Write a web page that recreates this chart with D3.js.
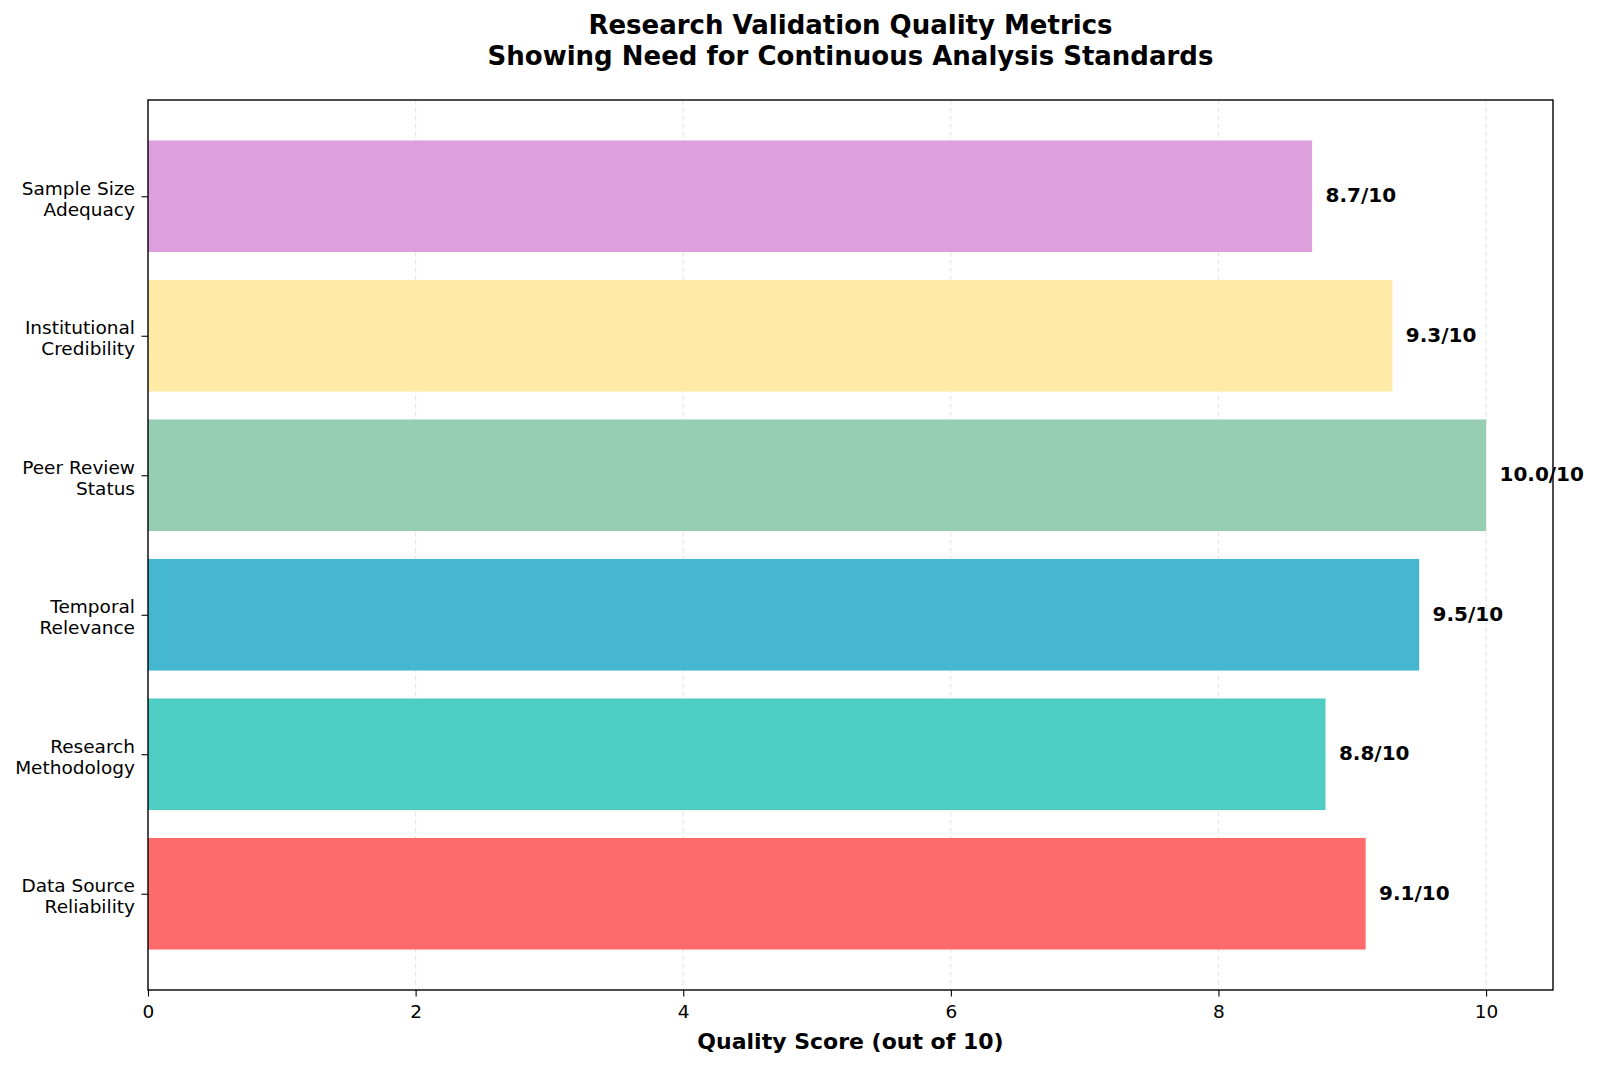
<!DOCTYPE html>
<html><head><meta charset="utf-8">
<script src="https://cdn.jsdelivr.net/npm/d3@7"></script>
<style>body{margin:0;background:#fff}svg{display:block}text{font-family:"DejaVu Sans",sans-serif}</style>
</head><body><svg id="c" width="1600" height="1065"></svg>
<script>
const categories = [["Data Source","Reliability"],["Research","Methodology"],["Temporal","Relevance"],["Peer Review","Status"],["Institutional","Credibility"],["Sample Size","Adequacy"]];
const scores = [9.1, 8.8, 9.5, 10.0, 9.3, 8.7];
const colors = ["#FF6B6B","#4ECDC4","#45B7D1","#96CEB4","#FFEAA7","#DDA0DD"];
const xTicks = [0,2,4,6,8,10];
const titleLines = ["Research Validation Quality Metrics","Showing Need for Continuous Analysis Standards"];
const xLabel = "Quality Score (out of 10)";

const svg = d3.select("#c");
const L = 148, R = 1553, T = 100, B = 990;
const x = d3.scaleLinear().domain([0, 10.5]).range([L, R]);
const y = d3.scaleLinear().domain([-0.69, 5.69]).range([B, T]);
const bh = 0.8;

// grid
svg.append("g").selectAll("line").data(xTicks.filter(d=>d>0)).join("line")
  .attr("x1", d=>x(d)).attr("x2", d=>x(d)).attr("y1", T).attr("y2", B)
  .attr("stroke", "#b0b0b0").attr("stroke-opacity", 0.3).attr("stroke-width", 1.1)
  .attr("stroke-dasharray", "5,3");

// bars
svg.append("g").selectAll("rect").data(scores).join("rect")
  .attr("x", x(0)).attr("width", d=>x(d)-x(0))
  .attr("y", (d,i)=>y(i+bh/2)).attr("height", (d,i)=>y(i-bh/2)-y(i+bh/2))
  .attr("fill", (d,i)=>colors[i]);

// value labels
svg.append("g").selectAll("text").data(scores).join("text")
  .attr("x", d=>x(d+0.1)).attr("y", (d,i)=>y(i)).attr("dy","0.3em")
  .attr("font-size", 20).attr("font-weight","bold").attr("fill","#000")
  .text(d=>d.toFixed(1)+"/10");

// frame
svg.append("rect").attr("x", L).attr("y", T).attr("width", R-L).attr("height", B-T)
  .attr("fill","none").attr("stroke","#000").attr("stroke-width",1.4);

// x axis
const xa = svg.append("g").attr("transform", `translate(0,${B})`)
  .call(d3.axisBottom(x).tickValues(xTicks).tickFormat(d3.format("d")).tickSize(6.5).tickPadding(8.5));
xa.select(".domain").remove();
xa.selectAll("line").attr("stroke","#000").attr("stroke-width",1.1);
xa.selectAll("text").attr("font-size",18.5).attr("fill","#000").attr("font-family","DejaVu Sans");

// y axis
const ya = svg.append("g").attr("transform", `translate(${L},0)`)
  .call(d3.axisLeft(y).tickValues(d3.range(categories.length)).tickSize(6.5).tickFormat(""));
ya.select(".domain").remove();
ya.selectAll("line").attr("stroke","#000").attr("stroke-width",1.1);
const yl = svg.append("g").selectAll("text").data(categories).join("text")
  .attr("x", L-13).attr("y", (d,i)=>y(i)).attr("text-anchor","end")
  .attr("font-size",18.5).attr("fill","#000");
yl.each(function(d){
  const t = d3.select(this);
  d.forEach((s,k)=>t.append("tspan").attr("x", L-13).attr("dy", k===0 ? "-0.08em" : "1.13em").text(s));
});

// x label
svg.append("text").attr("x", (L+R)/2).attr("y", 1041).attr("dy","0.35em").attr("text-anchor","middle")
  .attr("font-size",22).attr("font-weight","bold").text(xLabel);

// title
svg.append("g").selectAll("text").data(titleLines).join("text")
  .attr("x", (L+R)/2).attr("y", (d,i)=>25+i*30.5).attr("dy","0.35em").attr("text-anchor","middle")
  .attr("font-size",26).attr("font-weight","bold").text(d=>d);
</script></body></html>
